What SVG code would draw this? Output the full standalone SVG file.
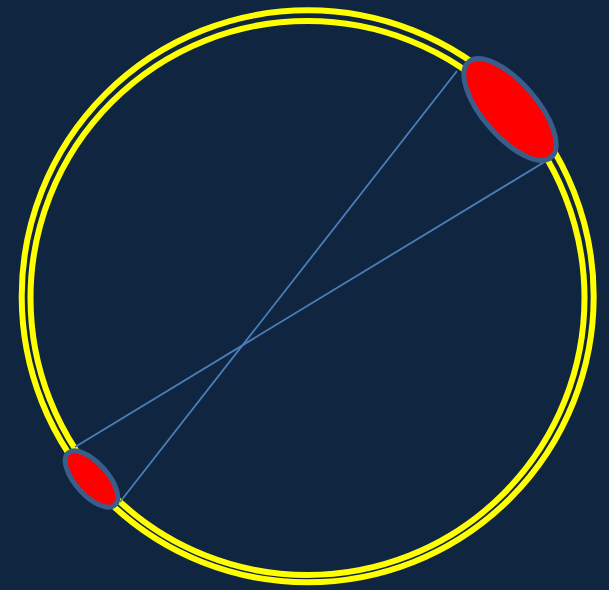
<svg xmlns="http://www.w3.org/2000/svg" width="609" height="590" viewBox="0 0 609 590">
<style>
.ring{fill:none;stroke:#ffff00;stroke-width:6}
.lens{fill:#ff0000;stroke:#3a5e8c;stroke-width:5}
.ray{stroke:#4a7ebb;stroke-width:1.8;fill:none}
</style>
<rect width="609" height="590" fill="#10253f"/>
<g id="rings">
<circle class="ring" cx="307.7" cy="296.3" r="286"/>
<circle class="ring" cx="307.5" cy="298" r="277"/>
</g>
<g id="connectors">
<line class="ray" x1="457" y1="71" x2="120" y2="502"/>
<line class="ray" x1="546" y1="161" x2="75" y2="447"/>
</g>
<g id="lens-top">
<ellipse class="lens" cx="510" cy="109.5" rx="63" ry="27" transform="rotate(49 510 109.5)"/>
</g>
<g id="lens-bottom">
<ellipse class="lens" cx="91.5" cy="479" rx="35" ry="16" transform="rotate(48 91.5 479)"/>
</g>
</svg>
